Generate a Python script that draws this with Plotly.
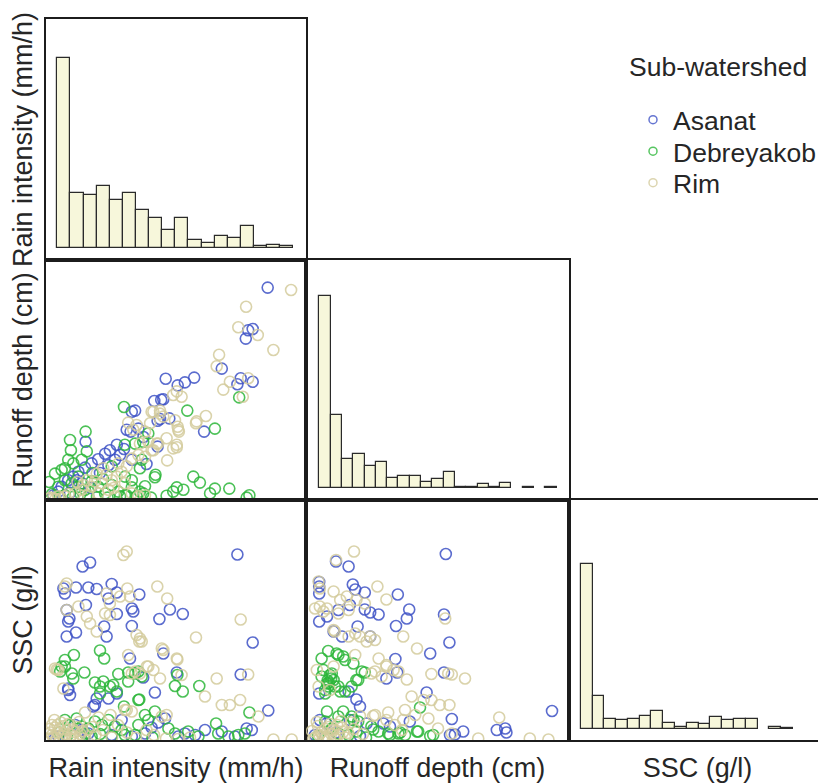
import numpy as np
import plotly.graph_objects as go

# ---------------- data ----------------
groups = ["Asanat", "Debreyakob", "Rim"]
colors = {"Asanat": "#3e52c6", "Debreyakob": "#2db63a", "Rim": "#d3cb9c"}

var_titles = ["Rain intensity (mm/h)", "Runoff depth (cm)", "SSC (g/l)"]
legend_title = "Sub-watershed"

# histogram bins (start, width) and counts for each variable
rain_bin_start, rain_bin_width = 0.0, 5.0
rain_counts = [114, 33, 32, 37, 29, 33, 23, 18, 11, 18, 5, 3, 7, 6, 13, 1, 2, 1]
runoff_bin_start, runoff_bin_width = 0.0, 0.2
runoff_counts = [144, 55, 22, 26, 17, 20, 8, 9, 9, 5, 7, 12, 1, 1, 3, 1, 4, 0, 1, 0, 1]
ssc_bin_start, ssc_bin_width = 0.0, 2.5
ssc_counts = [124, 25, 8, 7, 8, 10, 14, 5, 2, 5, 4, 9, 7, 8, 8, 0, 2, 1]

# (rain intensity, runoff depth)
asanat_rain_runoff = [
    (73.9, 3.54), (67.4, 2.83), (68.9, 2.85), (66.6, 2.69), (58.6, 2.19), (64.9, 2.03), (63.8, 1.93),
    (68.9, 1.97), (39.9, 2.02), (49.4, 2.04), (43.9, 1.91), (46.3, 1.96), (36.1, 1.65), (39.1, 1.68),
    (38.4, 1.67), (29.7, 1.49), (28.6, 1.47), (38.0, 1.35), (41.1, 1.36), (37.2, 1.32), (52.7, 1.14),
    (28.2, 1.14), (30.8, 1.19), (26.9, 1.17), (13.2, 0.97), (37.2, 0.89), (23.6, 0.92), (21.3, 0.83),
    (19.7, 0.77), (17.4, 0.68), (15.2, 0.61), (13.0, 0.54), (10.8, 0.47), (9.1, 0.39), (7.4, 0.33),
    (24.7, 0.75), (23.0, 0.67), (20.8, 0.58), (28.6, 0.67), (5.2, 0.22), (4.1, 0.14), (10.2, 0.33),
    (12.0, 0.28), (18.0, 0.45), (26.0, 0.85), (32.5, 1.05), (8.0, 0.12), (15.0, 0.20), (2.5, 0.08),
    (33.5, 0.60)]
debreyakob_rain_runoff = [
    (64.4, 1.71), (47.1, 1.49), (56.3, 1.19), (26.0, 1.55), (13.2, 1.14), (8.0, 1.00), (8.3, 0.83),
    (13.6, 0.81), (6.3, 0.53), (36.3, 0.38), (36.5, 0.42), (49.1, 0.39), (51.3, 0.29), (43.6, 0.21),
    (45.8, 0.17), (42.4, 0.14), (40.2, 0.07), (56.3, 0.19), (54.7, 0.11), (61.1, 0.19), (67.8, 0.08),
    (66.9, 0.04), (32.4, 0.11), (30.2, 0.06), (26.9, 0.08), (24.7, 0.06), (34.1, 1.11), (29.7, 0.94),
    (32.4, 0.97), (9.1, 0.61), (11.9, 0.67), (31.9, 0.67), (31.3, 0.53), (4.1, 0.22), (6.3, 0.33),
    (8.6, 0.28), (10.8, 0.22), (13.0, 0.17), (15.2, 0.31), (17.4, 0.22), (19.7, 0.11), (21.9, 0.25),
    (24.1, 0.14), (26.3, 0.08), (28.6, 0.21), (31.3, 0.14), (33.0, 0.23), (6.3, 0.08), (14.1, 0.06),
    (3.0, 0.44), (5.2, 0.50), (7.4, 0.67), (10.8, 0.39), (26.3, 0.39), (28.6, 0.33), (21.9, 0.56),
    (26.3, 0.92), (2.0, 0.10), (4.5, 0.05), (9.0, 0.05), (11.5, 0.10), (17.0, 0.05), (20.5, 0.04),
    (35.0, 0.04), (1.0, 0.30), (15.5, 0.45), (19.0, 0.35)]
rim_rain_runoff = [
    (81.7, 3.50), (66.7, 3.22), (64.1, 2.88), (70.6, 2.75), (75.8, 2.50), (57.7, 2.42), (56.9, 2.23),
    (61.3, 1.97), (59.1, 1.84), (65.6, 1.72), (67.4, 2.03), (45.2, 1.72), (43.6, 1.81), (42.4, 1.75),
    (35.8, 1.47), (38.0, 1.49), (39.1, 1.39), (50.0, 1.28), (53.3, 1.40), (43.9, 1.22), (44.3, 1.14),
    (40.2, 1.03), (43.6, 0.88), (40.4, 0.66), (27.4, 1.29), (30.2, 1.25), (34.7, 1.28), (33.0, 1.14),
    (31.3, 0.94), (34.1, 0.97), (35.8, 0.83), (36.9, 0.94), (38.0, 1.44), (43.0, 1.33), (44.1, 1.17),
    (43.6, 0.92), (50.2, 1.31), (42.4, 0.86), (35.2, 1.47), (29.1, 1.17), (37.4, 0.94), (35.2, 0.83),
    (33.0, 0.72), (30.8, 0.75), (28.6, 0.69), (26.9, 0.56), (25.2, 0.47), (23.6, 0.39), (21.9, 0.33),
    (20.2, 0.42), (18.6, 0.28), (16.3, 0.31), (15.2, 0.22), (13.6, 0.33), (11.9, 0.17), (16.9, 0.44),
    (19.1, 0.53), (20.8, 0.17), (17.4, 0.11), (14.1, 0.08), (9.7, 0.11), (6.3, 0.06), (4.1, 0.06),
    (2.4, 0.03), (0.8, 0.02), (24.1, 0.61), (26.3, 0.28), (28.6, 0.11), (23.0, 0.06), (30.8, 0.06),
    (33.0, 0.08), (1.5, 0.04), (3.2, 0.02), (5.0, 0.03), (7.5, 0.10), (12.5, 0.25), (22.5, 0.20),
    (10.5, 0.30)]

# (rain intensity, SSC)
asanat_rain_ssc = [
    (63.8, 37.1), (12.2, 34.7), (14.7, 35.5), (5.8, 30.3), (6.3, 29.3), (10.0, 30.5), (14.1, 30.5),
    (16.9, 30.2), (21.9, 31.2), (23.6, 29.5), (20.8, 28.3), (31.1, 29.1), (13.3, 27.0), (6.9, 26.0),
    (7.8, 24.3), (7.4, 23.7), (23.6, 25.2), (28.6, 26.3), (29.1, 25.7), (41.3, 26.1), (45.6, 25.2),
    (37.8, 24.2), (28.6, 22.8), (19.4, 22.7), (20.2, 20.7), (6.9, 20.7), (10.0, 21.5), (68.9, 19.5),
    (39.1, 17.3), (28.0, 16.3), (64.9, 13.1), (43.6, 13.5), (32.4, 12.5), (7.4, 10.0), (8.0, 9.0),
    (36.3, 9.5), (20.8, 8.3), (16.9, 8.3), (15.8, 6.7), (74.1, 5.9), (66.9, 2.3), (68.6, 2.0),
    (7.4, 10.3), (16.3, 7.0), (23.6, 9.3), (25.2, 4.0), (39.7, 4.3), (37.4, 3.5), (53.0, 2.0),
    (58.6, 1.7), (49.7, 1.0), (35.2, 2.5), (33.0, 1.3), (9.7, 3.0), (11.9, 2.0), (14.1, 1.3),
    (4.1, 0.7), (3.0, 0.3), (44.1, 0.7), (46.3, 1.3), (63.0, 0.7), (28.6, 0.7), (21.9, 1.0)]
debreyakob_rain_ssc = [
    (9.3, 17.0), (6.3, 16.0), (6.3, 14.7), (8.6, 13.3), (12.8, 13.5), (18.0, 17.9), (19.4, 16.3),
    (24.1, 13.2), (27.4, 13.5), (30.8, 13.7), (16.3, 11.5), (18.0, 10.7), (19.1, 11.7), (21.3, 10.7),
    (23.6, 9.7), (27.4, 11.7), (31.1, 8.1), (26.0, 6.7), (43.8, 13.0), (43.0, 10.8), (45.6, 9.7),
    (51.1, 10.8), (67.8, 5.5), (56.7, 3.3), (36.3, 5.7), (34.1, 4.0), (5.2, 14.7), (4.7, 13.7),
    (9.1, 12.3), (29.7, 13.3), (31.9, 12.7), (22.4, 11.0), (18.0, 9.3), (30.8, 8.0), (6.3, 4.0),
    (10.2, 4.3), (8.0, 3.0), (16.3, 3.7), (18.6, 3.0), (20.8, 4.0), (23.0, 2.7), (33.0, 5.0),
    (30.8, 3.0), (40.8, 2.3), (43.0, 1.3), (47.4, 1.7), (50.8, 0.7), (57.4, 1.3), (60.8, 0.7),
    (64.1, 1.0), (66.3, 1.3), (13.0, 1.3), (15.2, 0.7), (21.9, 0.7), (26.3, 1.0), (29.7, 1.0),
    (11.9, 2.7), (14.1, 2.3), (25.2, 2.0), (4.5, 1.5), (7.0, 0.8), (18.0, 1.2), (35.5, 0.5)]
rim_rain_ssc = [
    (25.8, 37.0), (26.9, 37.7), (6.9, 31.3), (6.3, 30.7), (27.1, 30.3), (28.0, 28.7), (37.1, 30.7),
    (40.4, 28.3), (20.2, 29.3), (24.7, 28.7), (21.3, 27.3), (6.9, 26.0), (10.8, 26.7), (13.6, 24.7),
    (14.7, 23.3), (16.9, 21.7), (19.7, 25.3), (21.3, 25.0), (30.2, 21.0), (31.3, 20.3), (31.1, 19.7),
    (50.0, 20.5), (64.9, 24.1), (38.6, 18.3), (39.1, 18.0), (43.8, 16.1), (27.4, 17.0), (33.6, 14.7),
    (35.8, 14.0), (38.0, 12.3), (31.3, 13.3), (3.6, 14.1), (29.7, 13.7), (56.9, 12.3), (67.4, 13.1),
    (58.6, 7.0), (61.3, 7.0), (64.7, 8.0), (70.8, 4.7), (75.8, 0.1), (81.9, 0.1), (26.9, 6.0),
    (31.9, 19.7), (43.6, 16.3), (4.1, 14.0), (3.0, 14.3), (28.6, 13.3), (34.1, 14.7), (45.2, 13.0),
    (53.0, 8.7), (5.8, 10.3), (26.3, 6.0), (28.6, 5.7), (40.2, 5.0), (38.6, 4.7), (2.5, 0.5),
    (4.0, 1.5), (5.5, 0.8), (7.0, 2.0), (8.5, 1.0), (10.0, 0.4), (3.0, 2.5), (6.0, 2.8), (9.0, 2.2),
    (11.5, 1.2), (1.5, 1.5), (2.0, 3.0), (5.0, 3.5), (12.5, 0.3), (14.0, 2.0), (16.5, 1.0),
    (19.0, 2.0), (22.0, 0.5), (24.0, 3.0), (27.0, 1.5), (30.0, 0.4), (33.5, 2.0), (36.0, 1.0),
    (40.0, 0.3), (44.0, 0.2), (48.0, 0.5), (17.5, 4.5), (21.5, 5.0), (13.0, 5.5), (1.0, 0.3),
    (2.0, 1.0), (3.5, 0.2), (4.5, 2.2), (6.5, 1.2), (8.0, 0.3), (9.5, 1.6), (1.2, 2.2), (3.8, 3.0),
    (7.5, 3.2), (10.5, 2.6), (12.0, 1.8), (2.8, 4.0), (6.2, 0.2), (11.0, 3.6), (15.5, 2.6)]

# (runoff depth, SSC)
asanat_runoff_ssc = [
    (2.33, 37.2), (0.50, 35.7), (0.71, 34.7), (0.22, 30.7), (0.22, 29.3), (0.22, 31.6), (0.78, 31.1),
    (0.82, 30.1), (0.98, 29.5), (0.73, 27.0), (1.53, 29.1), (1.72, 26.1), (1.68, 24.3), (0.54, 26.0),
    (0.35, 24.7), (0.22, 23.7), (0.98, 26.1), (1.07, 25.5), (1.21, 25.1), (2.30, 25.1), (0.86, 22.7),
    (1.50, 22.8), (0.46, 21.7), (0.60, 20.7), (1.07, 20.7), (2.39, 19.5), (2.07, 17.3), (1.49, 16.2),
    (2.30, 13.5), (1.52, 13.5), (1.34, 12.3), (2.01, 9.5), (0.22, 9.3), (0.71, 9.7), (0.84, 8.1),
    (0.90, 6.7), (4.10, 5.8), (2.43, 4.2), (1.73, 3.7), (3.18, 2.0), (3.32, 2.3), (3.34, 1.5),
    (2.62, 1.7), (2.40, 1.0), (2.48, 1.1), (0.23, 4.0), (0.34, 3.3), (0.73, 4.0), (1.01, 3.3),
    (1.29, 3.3), (1.40, 2.7), (0.15, 1.0), (0.50, 1.5), (0.90, 0.8)]
debreyakob_runoff_ssc = [
    (0.37, 17.8), (0.51, 17.3), (0.62, 16.7), (0.26, 16.3), (0.79, 15.3), (0.93, 13.7), (0.84, 12.0),
    (0.98, 13.5), (0.29, 14.0), (0.40, 13.0), (0.46, 12.0), (0.35, 11.3), (0.48, 10.7), (0.32, 10.0),
    (0.57, 9.7), (1.90, 6.5), (0.35, 5.7), (0.62, 5.7), (0.79, 4.0), (1.85, 1.7), (2.07, 0.8),
    (1.57, 1.5), (1.40, 1.0), (1.12, 2.1), (0.54, 17.0), (0.65, 16.0), (0.87, 12.0), (0.43, 13.3),
    (0.37, 10.7), (0.54, 10.7), (0.65, 9.7), (0.32, 9.3), (0.26, 12.7), (0.76, 10.7), (0.38, 11.5),
    (0.42, 12.3), (0.36, 11.9), (0.54, 4.7), (0.76, 4.7), (0.87, 3.7), (1.09, 2.7), (1.21, 1.7),
    (1.37, 1.3), (1.54, 1.3), (1.65, 1.0), (1.87, 1.7), (2.12, 1.0), (0.32, 3.7), (0.43, 2.3),
    (0.54, 1.3), (0.71, 1.0), (0.84, 1.7), (0.20, 0.8), (1.00, 0.5)]
rim_runoff_ssc = [
    (0.80, 37.7), (0.50, 36.0), (0.21, 31.7), (0.23, 30.3), (1.19, 30.7), (1.34, 28.1), (0.46, 29.7),
    (0.57, 28.0), (0.68, 28.7), (0.84, 28.0), (0.98, 27.3), (0.23, 26.7), (0.35, 26.3), (0.29, 25.7),
    (0.71, 26.0), (0.46, 22.0), (0.90, 20.7), (1.01, 19.7), (1.62, 20.7), (1.85, 18.3), (2.32, 24.3),
    (0.82, 17.0), (1.21, 16.3), (1.34, 14.7), (1.15, 13.7), (1.54, 13.7), (1.68, 12.1), (2.09, 13.2),
    (2.43, 13.1), (2.65, 12.3), (1.76, 8.7), (2.09, 8.0), (2.23, 7.0), (2.39, 7.0), (1.65, 6.0),
    (1.37, 5.5), (1.62, 4.0), (3.22, 4.5), (0.90, 4.8), (1.12, 4.8), (2.87, 0.3), (3.73, 0.3),
    (4.04, 0.1), (0.46, 14.7), (0.18, 14.0), (0.21, 10.7), (0.40, 10.0), (0.15, 26.3), (0.54, 25.3),
    (0.48, 21.7), (0.71, 20.7), (0.82, 21.3), (1.07, 20.7), (1.15, 20.0), (1.09, 13.3), (1.26, 12.7),
    (1.46, 14.0), (1.34, 15.0), (2.37, 13.3), (1.96, 8.0), (1.82, 5.0), (2.04, 4.3), (1.15, 5.0),
    (1.34, 4.0), (1.48, 3.0), (1.60, 2.0), (2.20, 2.3), (2.43, 1.3), (0.15, 0.5), (0.25, 1.5),
    (0.35, 0.8), (0.45, 2.0), (0.55, 1.0), (0.20, 2.8), (0.40, 3.2), (0.60, 2.5), (0.30, 0.3),
    (0.50, 0.2), (0.10, 1.8), (0.65, 0.5), (0.80, 2.2), (0.95, 1.2), (0.75, 3.5), (0.12, 0.2),
    (0.22, 1.0), (0.32, 2.2), (0.42, 1.2), (0.52, 3.0), (0.62, 1.6), (0.18, 3.6), (0.28, 0.6),
    (0.38, 2.6), (0.48, 0.4), (0.58, 3.8), (0.70, 1.4)]

scatter_sets = {
    "rain_runoff": {"Asanat": asanat_rain_runoff, "Debreyakob": debreyakob_rain_runoff, "Rim": rim_rain_runoff},
    "rain_ssc": {"Asanat": asanat_rain_ssc, "Debreyakob": debreyakob_rain_ssc, "Rim": rim_rain_ssc},
    "runoff_ssc": {"Asanat": asanat_runoff_ssc, "Debreyakob": debreyakob_runoff_ssc, "Rim": rim_runoff_ssc},
}

# ---------------- layout geometry (figure pixels; page has an 8px body margin) ----------------
W, H = 818, 775
col_px = [(38, 298), (298, 561), (561, 818)]
row_px = [(11, 252), (252, 492), (492, 732)]


def xdom(c):
    return [col_px[c][0] / W, col_px[c][1] / W]


def ydom(r):
    return [1 - row_px[r][1] / H, 1 - row_px[r][0] / H]


LINE = "#1c1c1c"
FONT = "Liberation Sans, Arial, sans-serif"
TXT = "#262626"

fig = go.Figure()


def add_hist(ax, start, width, counts):
    counts = np.array(counts, dtype=float)
    centers = start + width * (np.arange(len(counts)) + 0.5)
    fig.add_trace(go.Bar(
        x=centers, y=np.where(counts > 0, counts, np.nan), width=width,
        marker=dict(color="#f7f7db", line=dict(color="#2a2a2a", width=1.2)),
        xaxis="x" + ax, yaxis="y" + ax, showlegend=False, hoverinfo="skip"))


def add_scatter(ax, key):
    for g in groups:
        pts = np.array(scatter_sets[key][g])
        fig.add_trace(go.Scatter(
            x=pts[:, 0], y=pts[:, 1], mode="markers",
            marker=dict(symbol="circle-open", size=11, color=colors[g], line=dict(width=1.6), opacity=0.85),
            xaxis="x" + ax, yaxis="y" + ax, showlegend=False, name=g))


add_hist("", rain_bin_start, rain_bin_width, rain_counts)           # row1 col1
add_scatter("2", "rain_runoff")                                       # row2 col1
add_hist("3", runoff_bin_start, runoff_bin_width, runoff_counts)    # row2 col2
add_scatter("4", "rain_ssc")                                          # row3 col1
add_scatter("5", "runoff_ssc")                                        # row3 col2
add_hist("6", ssc_bin_start, ssc_bin_width, ssc_counts)             # row3 col3

# legend entries, one legend box per entry so that spacing matches
legend_names = ["legend", "legend2", "legend3"]
legend_centers_px = [112, 143.5, 175]
for g, lg in zip(groups, legend_names):
    fig.add_trace(go.Scatter(
        x=[None], y=[None], mode="markers", name=g, legend=lg,
        marker=dict(symbol="circle-open", size=8, color=colors[g], line=dict(width=1.5), opacity=0.8),
        xaxis="x2", yaxis="y2", showlegend=True))

panel_axes = {
    "": dict(row=0, col=0, xr=[-4.31, 94.85], yr=[-7.2, 137.4]),
    "2": dict(row=1, col=0, xr=[0, 86.67], yr=[0, 4.0]),
    "3": dict(row=1, col=1, xr=[-0.235, 4.418], yr=[-8.78, 171.3]),
    "4": dict(row=2, col=0, xr=[0, 86.67], yr=[0, 48.0]),
    "5": dict(row=2, col=1, xr=[0, 4.383], yr=[0, 48.0]),
    "6": dict(row=2, col=2, xr=[-2.48, 51.99], yr=[-8.03, 172.0]),
}

title_font = dict(family=FONT, size=27, color=TXT)
layout = {}
for sfx, p in panel_axes.items():
    xa = dict(domain=xdom(p["col"]), range=p["xr"], anchor="y" + sfx,
              showticklabels=False, ticks="", showgrid=False, zeroline=False,
              showline=True, mirror=True, linecolor=LINE, linewidth=1.6, fixedrange=True)
    ya = dict(domain=ydom(p["row"]), range=p["yr"], anchor="x" + sfx,
              showticklabels=False, ticks="", showgrid=False, zeroline=False,
              showline=True, mirror=True, linecolor=LINE, linewidth=1.6, fixedrange=True)
    if p["row"] == 2:
        xa["title"] = dict(text=var_titles[p["col"]], font=title_font, standoff=22)
    if p["col"] == 0:
        ya["title"] = dict(text=var_titles[p["row"]], font=title_font, standoff=4)
    if sfx == "6":
        ya["mirror"] = False
    layout["xaxis" + sfx] = xa
    layout["yaxis" + sfx] = ya

legend_font = dict(family=FONT, size=26.5, color=TXT)
for lg, cy in zip(legend_names, legend_centers_px):
    layout[lg] = dict(
        font=legend_font, x=625 / W, y=1 - cy / H, xanchor="left", yanchor="middle",
        bgcolor="rgba(0,0,0,0)", itemsizing="trace", borderwidth=0)

fig.update_layout(**layout)
fig.update_layout(
    width=W, height=H,
    margin=dict(l=0, r=0, t=0, b=0),
    paper_bgcolor="white", plot_bgcolor="white",
    font=dict(family=FONT, color=TXT),
    bargap=0,
    annotations=[dict(text=legend_title, x=619 / W, y=1 - 59 / H, xref="paper", yref="paper",
                      xanchor="left", yanchor="middle", showarrow=False, font=legend_font)],
)

fig.write_html("out.html")
